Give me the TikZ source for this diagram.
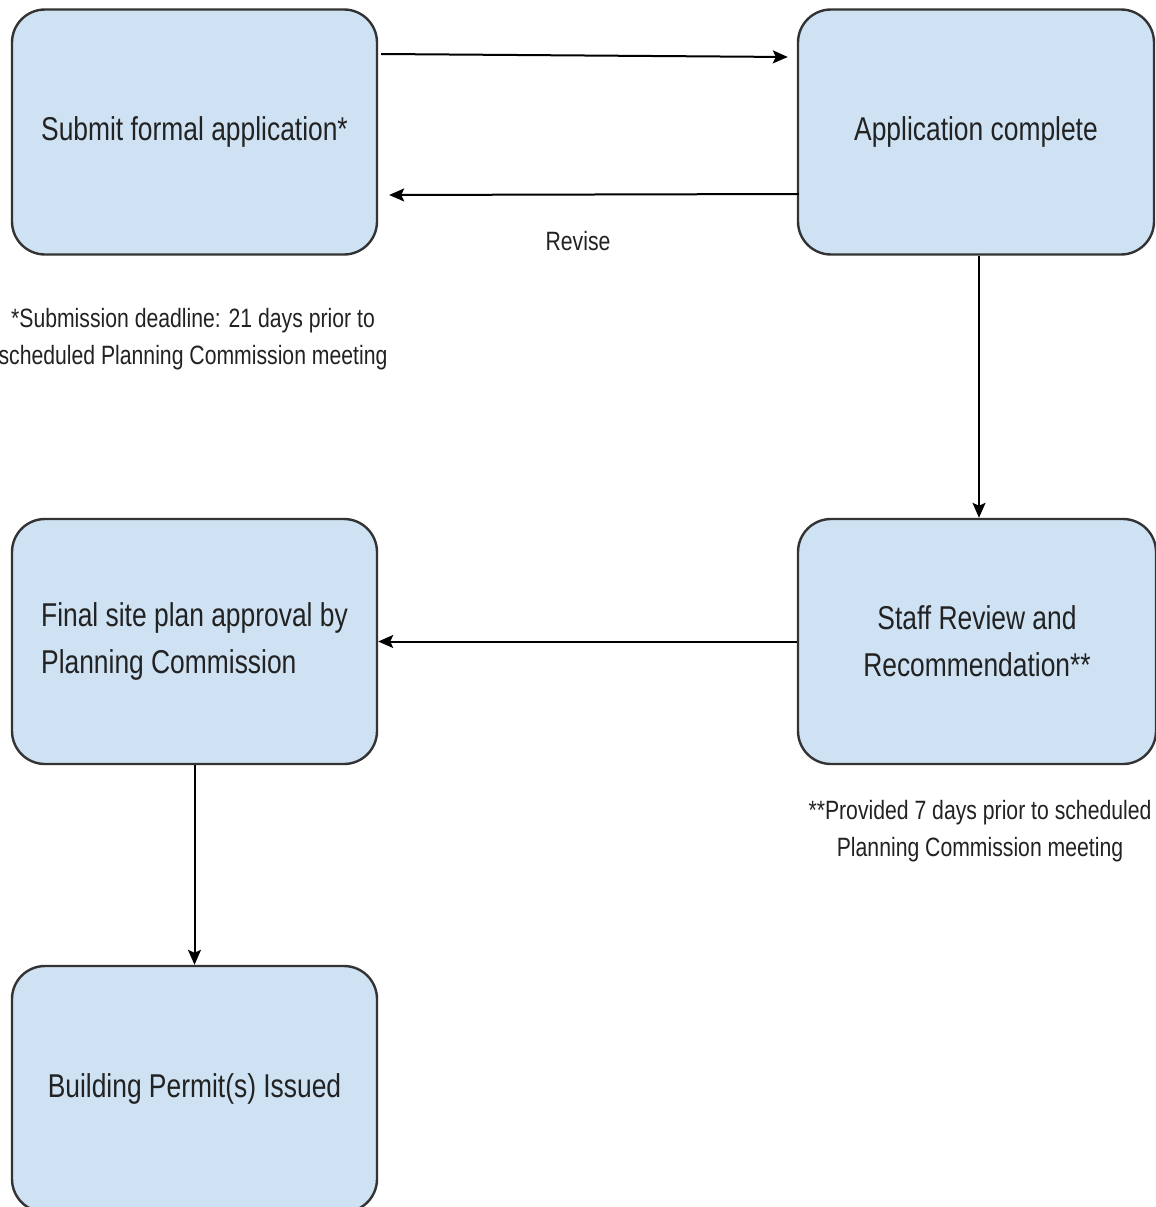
\documentclass[tikz,border=0pt]{standalone}
\usepackage{fontspec}
\setsansfont[FakeStretch=0.8]{Liberation Sans}
\usetikzlibrary{arrows,arrows.meta}
\usetikzlibrary{calc}
\definecolor{kasten}{RGB}{207,226,243}
\definecolor{rand}{RGB}{51,51,51}
\definecolor{schrift}{RGB}{34,34,34}

\begin{document}
\begin{tikzpicture}[x=1pt, y=1pt,
    stufe/.style={draw=rand, line width=2.4pt, fill=kasten, rounded corners=33pt,
        minimum width=365pt, minimum height=245pt, inner sep=0pt, text=schrift,
        font=\sffamily\fontsize{33}{47}\selectfont, align=center},
    notiz/.style={text=schrift, font=\sffamily\fontsize{26.5}{37.5}\selectfont, align=center, inner sep=0pt},
    pfeil/.style={line width=2pt, -{Stealth[length=15pt, width=13pt, inset=3pt]}}]

    \useasboundingbox (0,0) rectangle (1156,-1207);

    \node[stufe] (submit) at (194.5,-132) {Submit formal application*};
    \node[stufe, minimum width=356pt] (complete) at (976,-132) {Application complete};
    \node[stufe, minimum width=358pt] (staff) at (977,-641.5) {Staff Review and\\Recommendation**};
    \node[stufe, align=left] (final) at (194.5,-641.5) {Final site plan approval by\\Planning Commission};
    \node[stufe, minimum height=246pt] (permit) at (194.5,-1089) {Building Permit(s) Issued};

    \node[notiz] (deadline) at (193,-339) {*Submission deadline: 21 days prior to\\scheduled Planning Commission meeting};
    \node[notiz] (provided) at (980,-831) {**Provided 7 days prior to scheduled\\Planning Commission meeting};
    \node[notiz] (revise) at (578,-241) {Revise};

    % Verbindungen
    \coordinate (ziel) at ($(complete.west)+(-9,75)$);
    \draw[pfeil] ($(submit.east)+(3,78)$) -- (ziel);
    \coordinate (zurueck) at ($(submit.east)+(11,-63)$);
    \draw[pfeil] ($(complete.west)+(2,-62)$) -- (zurueck);
    \draw[pfeil] ($(complete.south)+(3,0)$) -- ($(staff.north)+(2,0)$);
    \draw[pfeil] (staff.west) -- (final.east);
    \draw[pfeil] (final.south) -- (permit.north);

\end{tikzpicture}
\end{document}
